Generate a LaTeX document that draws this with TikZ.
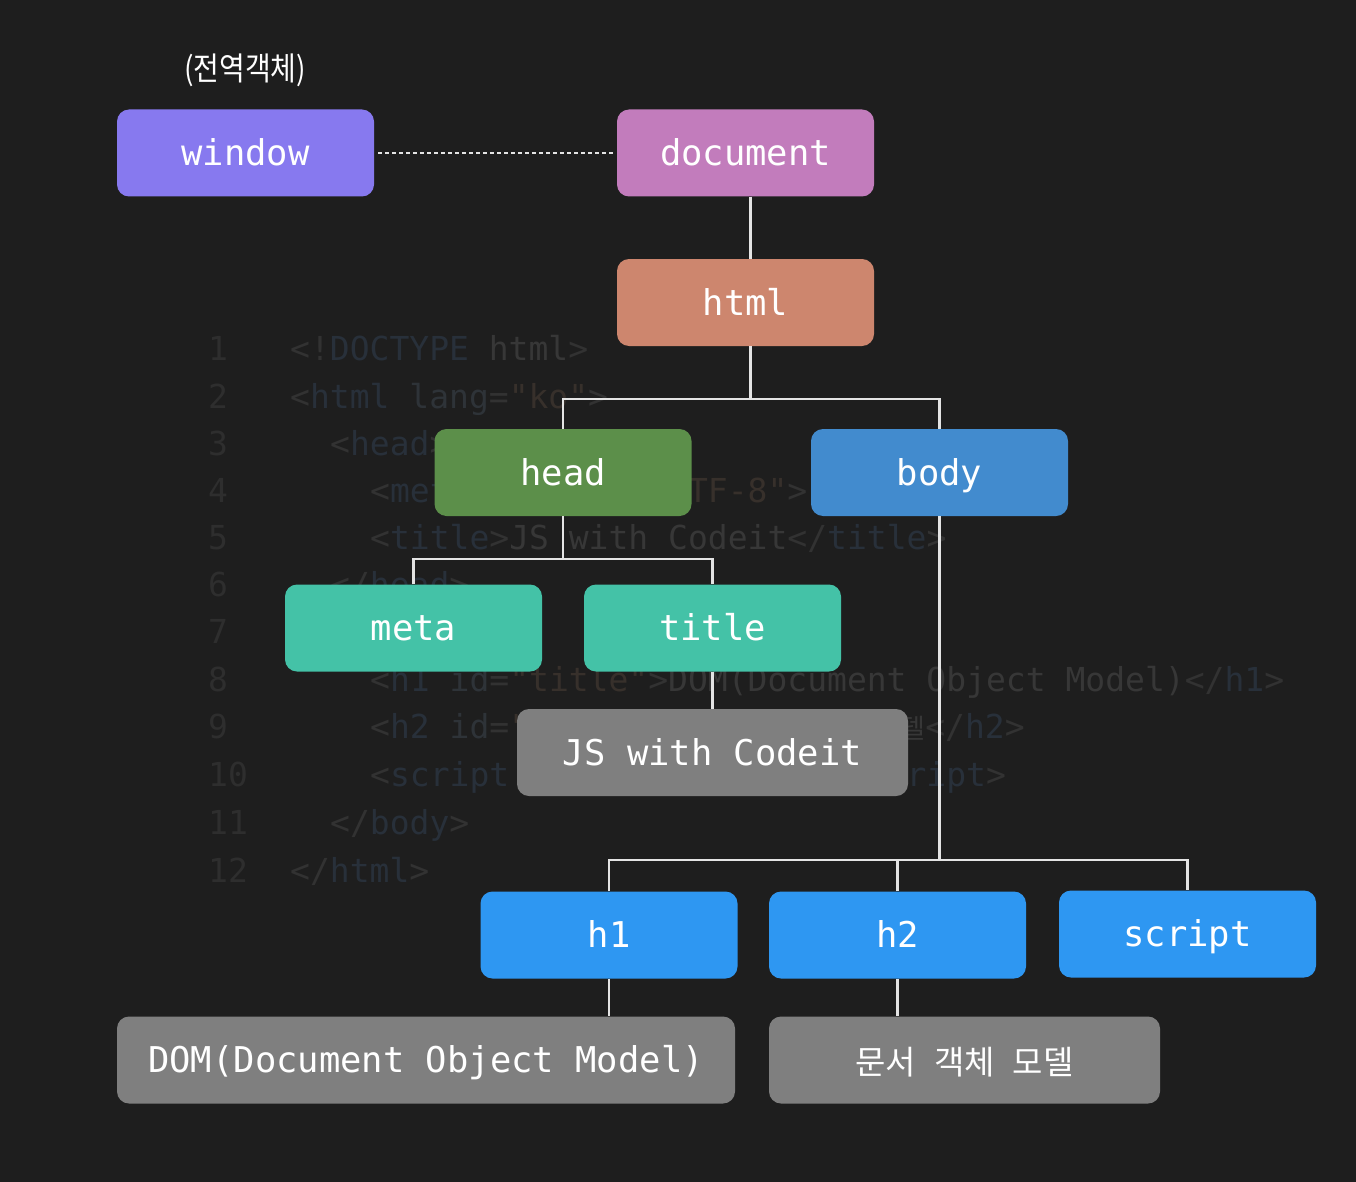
\documentclass[tikz,border=0pt]{standalone}
\usepackage{fontspec}
\setmonofont{DejaVu Sans Mono}
\newfontfamily\cjk{Noto Sans CJK KR}
\newfontfamily\codefont{DejaVu Sans Mono}
\definecolor{bgc}{HTML}{1E1E1E}
\definecolor{cwin}{HTML}{8779EF}
\definecolor{cdoc}{HTML}{C27CBC}
\definecolor{chtml}{HTML}{CD866E}
\definecolor{chead}{HTML}{5C8F4A}
\definecolor{cbody}{HTML}{428BCE}
\definecolor{cteal}{HTML}{44C2A7}
\definecolor{cgray}{HTML}{7F7F7F}
\definecolor{cblue}{HTML}{2E97F2}
\definecolor{cline}{HTML}{E4E4E4}
\definecolor{kpun}{HTML}{323232}
\definecolor{ktag}{HTML}{28303A}
\definecolor{katt}{HTML}{2E3338}
\definecolor{kstr}{HTML}{37302B}
\definecolor{ktxt}{HTML}{373737}
\definecolor{knum}{HTML}{2E2E2E}
\tikzset{
  box/.style={rounded corners=12pt, minimum width=257pt, minimum height=87pt,
    inner sep=0pt, text=white, font=\ttfamily\fontsize{35.5}{40}\selectfont,
    text height=30pt, text depth=4.4pt},
  conn/.style={draw=cline, line width=2.6pt},
  code/.style={anchor=base west, inner sep=0pt, font=\codefont\fontsize{33}{36}\selectfont},
  lnum/.style={code, text=knum},
}
\newcommand{\kp}[1]{{\color{kpun}#1}}
\newcommand{\kt}[1]{{\color{ktag}#1}}
\newcommand{\ka}[1]{{\color{katt}#1}}
\newcommand{\ks}[1]{{\color{kstr}#1}}
\newcommand{\kx}[1]{{\color{ktxt}#1}}
\begin{document}
\begin{tikzpicture}[x=1pt,y=-1pt]
\fill[bgc] (0,0) rectangle (1356,1182);
\useasboundingbox (0,0) rectangle (1356,1182);

% faint background code
\foreach \n/\yy in {1/348,2/396,3/443,4/490,5/537,6/584,7/631,8/679,9/726,10/774,11/822,12/870}{
  \node[lnum] (ln\n) at (208,\yy+12) {\n};
}
\node[code] (k1) at (290,360) {\kp{<!}\kt{DOCTYPE}\ \kx{html}\kp{>}};
\node[code] (k2) at (290,408) {\kp{<}\kt{html}\ \ka{lang}\kp{=}\ks{"ko"}\kp{>}};
\node[code] (k3) at (330,455) {\kp{<}\kt{head}\kp{>}};
\node[code] (k4) at (370,502) {\kp{<}\kt{meta}\ \ka{charset}\kp{=}\ks{"UTF-8"}\kp{>}};
\node[code] (k5) at (370,549) {\kp{<}\kt{title}\kp{>}\kx{JS\ with\ Codeit}\kp{</}\kt{title}\kp{>}};
\node[code] (k6) at (330,596) {\kp{</}\kt{head}\kp{>}};
\node[code] (k7) at (330,643) {\kp{<}\kt{body}\kp{>}};
\node[code] (k8) at (370,691) {\kp{<}\kt{h1}\ \ka{id}\kp{=}\ks{"title"}\kp{>}\kx{DOM(Document\ Object\ Model)}\kp{</}\kt{h1}\kp{>}};
\node[code] (k9) at (370,738) {\kp{<}\kt{h2}\ \ka{id}\kp{=}\ks{"subtitle"}\kp{>}};
\node[code] (k9b) at (764,738) {\kx{\cjk\fontsize{27}{30}\selectfont 문서 객체 모델}\kp{</}\kt{h2}\kp{>}};
\node[code] (k10) at (370,786) {\kp{<}\kt{script}\ \ka{src}\kp{=}\ks{"index.js"}\kp{></}\kt{script}\kp{>}};
\node[code] (k11) at (330,834) {\kp{</}\kt{body}\kp{>}};
\node[code] (k12) at (290,882) {\kp{</}\kt{html}\kp{>}};

% helper levels for connector bars
\coordinate (hb) at (0,399);
\coordinate (hd) at (0,559);
\coordinate (bd) at (0,860);

% nodes
\node[box, fill=cwin] (window) at (245.5,153) {window};
\node[box, fill=cdoc] (document) at (745.5,153) {document};
\node[box, fill=chtml] (html) at (745.5,302.5) {html};
\node[box, fill=chead] (head) at (563,472.5) {head};
\node[box, fill=cbody] (body) at (939.5,472.5) {body};
\node[box, fill=cteal] (meta) at (413.5,628) {meta};
\node[box, fill=cteal] (title) at (712.5,628) {title};
\node[box, fill=cgray, minimum width=391pt] (jstext) at (712.5,752.5) {JS with Codeit};
\node[box, fill=cblue] (h1) at (609,935) {h1};
\node[box, fill=cblue] (h2) at (897.5,935) {h2};
\node[box, fill=cblue] (script) at (1187.5,934) {script};
\node[box, fill=cgray, minimum width=618pt] (domtext) at (426,1060) {DOM(Document Object Model)};
\node[box, fill=cgray, minimum width=391pt, font=\cjk\fontsize{33}{38}\selectfont, text height=30pt, text depth=2pt] (krtext) at (964.5,1060) {문서\hspace{18pt}객체\hspace{18pt}모델};

\node[text=white, inner sep=0pt, font=\cjk\fontsize{28}{32}\selectfont, yscale=1.15] (note) at (245,70) {(전역객체)};

\draw[cline, line width=2.6pt, dash pattern=on 4pt off 3pt] (window.east) ++(4,0) -- ([xshift=-3pt]document.west);
\draw[conn] ([xshift=5pt]document.south) -- ([xshift=5pt]html.north);
\draw[conn] ([xshift=5pt]html.south) -- ([xshift=5pt]html.south |- hb);
\draw[conn] (head.north) -- (head.north |- hb) -| (body.north);
\draw[conn] (head.south) -- (head.south |- hd);
\draw[conn] (meta.north) -- (meta.north |- hd) -| (title.north);
\draw[conn] (title.south) -- (jstext.north -| title.south);
\draw[conn] (body.south) -- (body.south |- bd);
\draw[conn] (h1.north) -- (h1.north |- bd) -| (script.north);
\draw[conn] (h2.north) -- (h2.north |- bd);
\draw[conn] (h1.south) -- (domtext.north -| h1.south);
\draw[conn] (h2.south) -- (krtext.north -| h2.south);
\end{tikzpicture}
\end{document}
